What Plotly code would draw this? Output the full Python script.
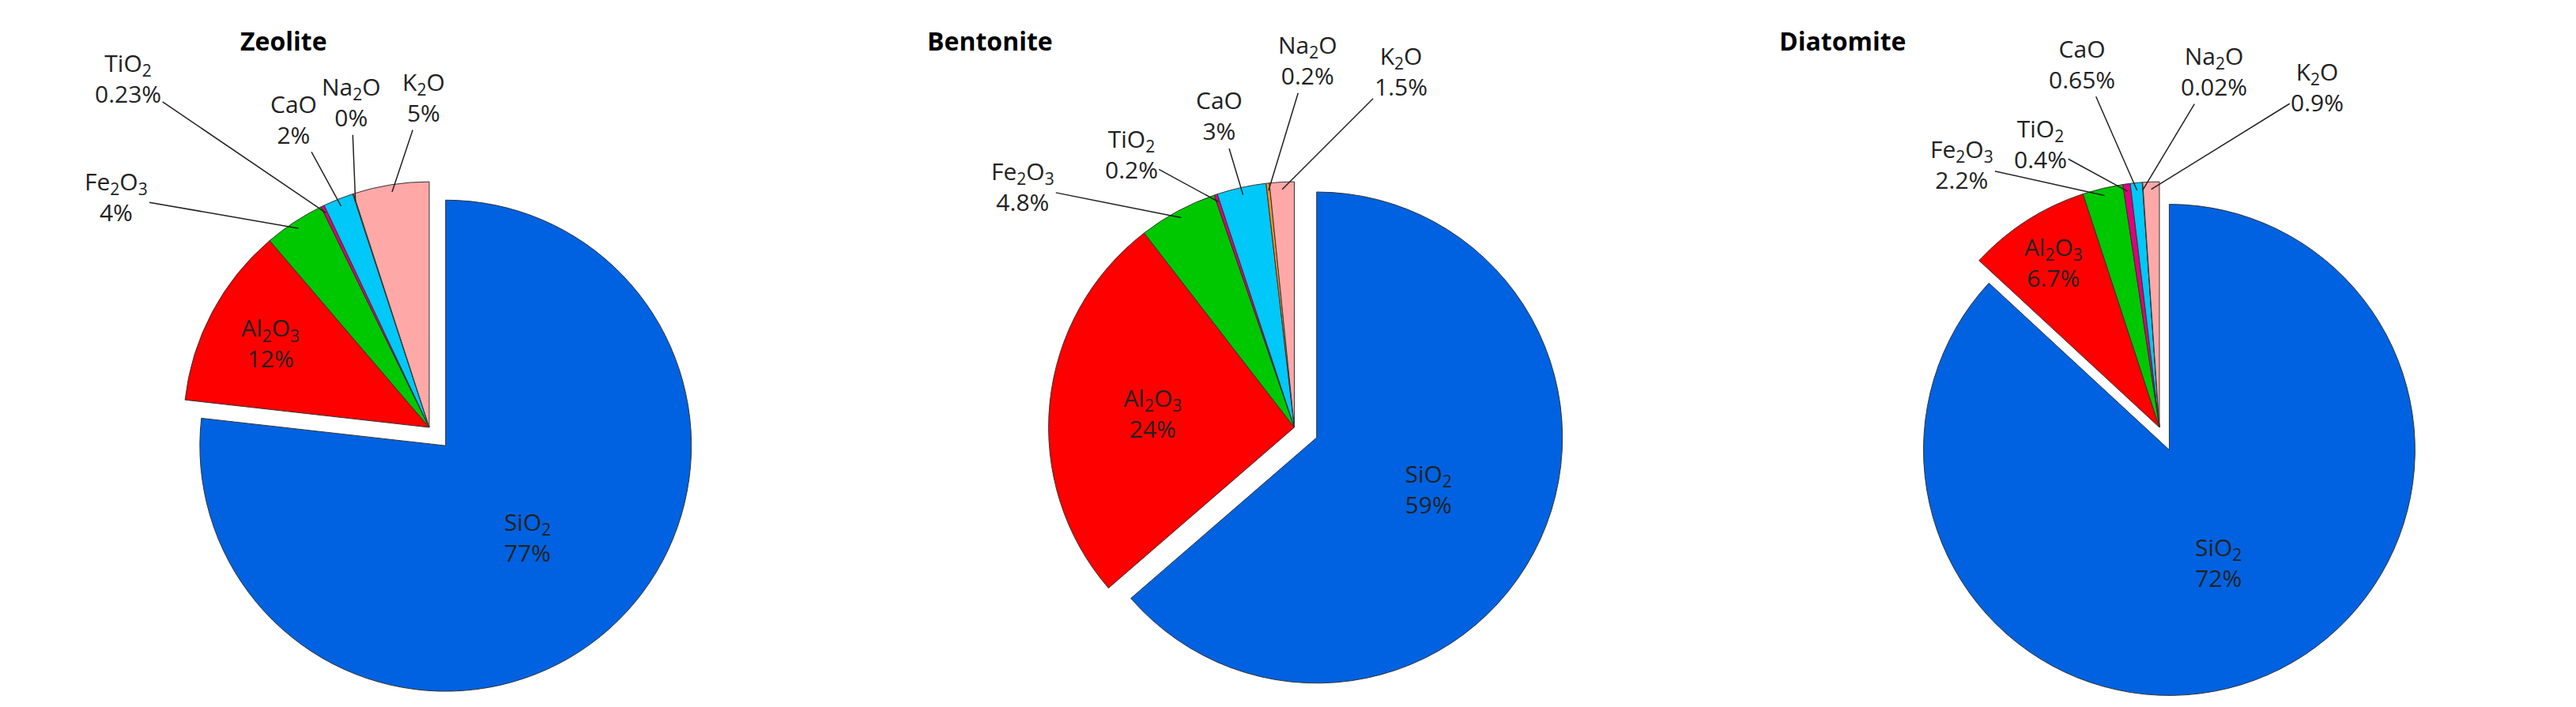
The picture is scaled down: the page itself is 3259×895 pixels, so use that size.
import math
import plotly.graph_objects as go

oxides = ["SiO<sub>2</sub>", "Al<sub>2</sub>O<sub>3</sub>", "Fe<sub>2</sub>O<sub>3</sub>",
          "TiO<sub>2</sub>", "CaO", "Na<sub>2</sub>O", "K<sub>2</sub>O"]
colors = ["#0062e0", "#ff0000", "#00c800", "#e0007a", "#00c8f8", "#ff9020", "#ffa8a8"]

zeolite = [77, 12, 4, 0.23, 2, 0.05, 5]
zeolite_txt = ["77%", "12%", "4%", "0.23%", "2%", "0%", "5%"]
bentonite = [59, 24, 4.8, 0.2, 3, 0.2, 1.5]
bentonite_txt = ["59%", "24%", "4.8%", "0.2%", "3%", "0.2%", "1.5%"]
diatomite = [72, 6.7, 2.2, 0.4, 0.65, 0.02, 0.9]
diatomite_txt = ["72%", "6.7%", "2.2%", "0.4%", "0.65%", "0.02%", "0.9%"]

names = ["Zeolite", "Bentonite", "Diatomite"]
series = [(zeolite, zeolite_txt), (bentonite, bentonite_txt), (diatomite, diatomite_txt)]
domains = [[0.0, 0.32], [0.34, 0.66], [0.68, 1.0]]
title_x = [0.085, 0.355, 0.69]
# label offsets (pixels) for the small outside slices: Fe2O3, TiO2, CaO, Na2O, K2O
offsets = [
    [(-230, -40), (-250, -170), (-60, -110), (-5, -125), (40, -120)],
    [(-200, -40), (-110, -60), (-30, -100), (50, -165), (150, -150)],
    [(-180, -40), (-110, -60), (-70, -160), (90, -150), (210, -130)],
]

W, H, M = 3259, 895, 20
pw, ph = W - 2 * M, H - 2 * M
dom_y = [0.0, 0.8]
pull = 0.1

fig = go.Figure()
for (vals, txt), dom, offs in zip(series, domains, offsets):
    labels = [f"{o}<br>{t}" for o, t in zip(oxides, txt)]
    fig.add_trace(go.Pie(
        labels=oxides,
        values=vals,
        text=labels[:2] + [""] * 5,
        texttemplate="%{text}",
        textposition="inside",
        insidetextorientation="horizontal",
        sort=False,
        direction="clockwise",
        rotation=0,
        pull=[pull, 0, 0, 0, 0, 0, 0],
        marker=dict(colors=colors, line=dict(color="#333333", width=1)),
        textfont=dict(size=30, color="#222222"),
        domain=dict(x=dom, y=dom_y),
        showlegend=False,
        hoverinfo="label+percent",
    ))
    # centre and radius in pixels
    cx = M + pw * (dom[0] + dom[1]) / 2
    cy = M + ph * (1 - (dom_y[0] + dom_y[1]) / 2)
    r = min(pw * (dom[1] - dom[0]), ph * (dom_y[1] - dom_y[0])) / 2 / (1 + pull)
    total = sum(vals)
    cum = sum(vals[:2])
    for i in range(2, 7):
        th = 2 * math.pi * (cum + vals[i] / 2) / total
        cum += vals[i]
        px = cx + 0.97 * r * math.sin(th)
        py = cy - 0.97 * r * math.cos(th)
        fig.add_annotation(text=labels[i], x=(px - M) / pw, y=1 - (py - M) / ph,
                           xref="paper", yref="paper", showarrow=True, arrowhead=0,
                           arrowwidth=1.5, arrowcolor="#222222",
                           ax=offs[i - 2][0], ay=offs[i - 2][1],
                           font=dict(size=30, color="#222222"))

for name, tx in zip(names, title_x):
    fig.add_annotation(text=f"<b>{name}</b>", x=tx, y=1.0, xref="paper", yref="paper",
                       xanchor="left", yanchor="top", showarrow=False,
                       font=dict(size=32, color="black"))

fig.update_layout(
    width=W, height=H,
    paper_bgcolor="white", plot_bgcolor="white",
    font=dict(family="Open Sans"),
    margin=dict(l=M, r=M, t=M, b=M),
)
fig.write_html("out.html")
